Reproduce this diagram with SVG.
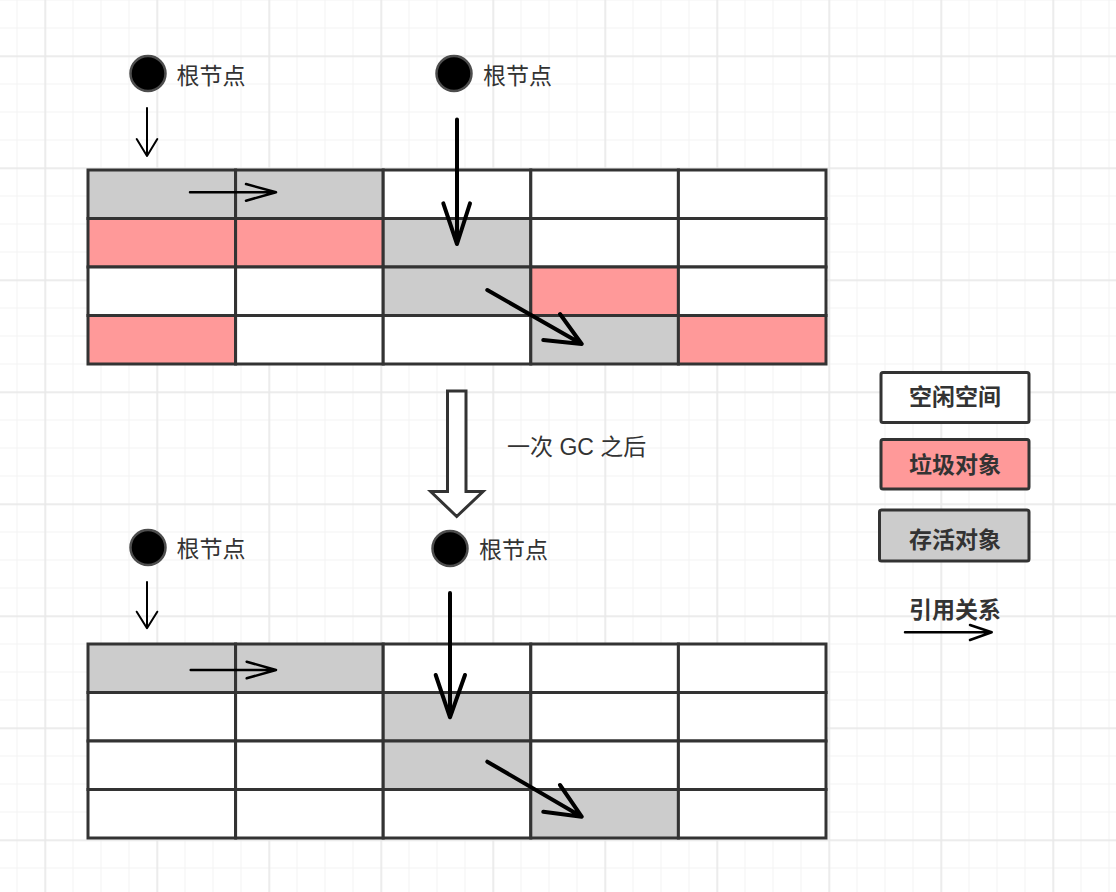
<svg xmlns="http://www.w3.org/2000/svg" width="1116" height="892" viewBox="0 0 1116 892">
<defs>
<pattern id="minor" patternUnits="userSpaceOnUse" x="16.5" y="27.5" width="28" height="28">
<rect x="0" y="0" width="1" height="28" fill="#f3f3f3"/>
<rect x="0" y="0" width="28" height="1" fill="#f3f3f3"/>
</pattern>
<pattern id="major" patternUnits="userSpaceOnUse" x="44.5" y="55.5" width="112" height="112">
<rect x="0" y="0" width="1.5" height="112" fill="#e8e8e8"/>
<rect x="0" y="0" width="112" height="1.5" fill="#e8e8e8"/>
</pattern>
<style>
.cell{stroke:#333;stroke-width:3}
.w{fill:#ffffff}
.g{fill:#cccccc}
.p{fill:#ff9999}
.root{fill:#000;stroke:#4d4d4d;stroke-width:2.5}
.lbl{font-family:"Liberation Sans","Noto Sans CJK SC",sans-serif;font-size:23px;fill:#333}
.leg{font-family:"Liberation Sans","Noto Sans CJK SC",sans-serif;font-size:23px;fill:#333;font-weight:bold;text-anchor:middle}
.box{stroke:#333;stroke-width:3}
.a2{fill:none;stroke:#000;stroke-width:2;stroke-linecap:round;stroke-linejoin:round}
.a3{fill:none;stroke:#000;stroke-width:2.5;stroke-linecap:round;stroke-linejoin:round}
.a4{fill:none;stroke:#000;stroke-width:4;stroke-linecap:round;stroke-linejoin:round}
</style>
</defs>
<rect width="1116" height="892" fill="#ffffff"/>
<rect width="1116" height="892" fill="url(#minor)"/>
<rect width="1116" height="892" fill="url(#major)"/>

<g id="table-before">
<rect class="cell g" x="88" y="170" width="147.6" height="48.5"/>
<rect class="cell g" x="235.6" y="170" width="147.6" height="48.5"/>
<rect class="cell w" x="383.2" y="170" width="147.6" height="48.5"/>
<rect class="cell w" x="530.8" y="170" width="147.6" height="48.5"/>
<rect class="cell w" x="678.4" y="170" width="147.6" height="48.5"/>
<rect class="cell p" x="88" y="218.5" width="147.6" height="48.5"/>
<rect class="cell p" x="235.6" y="218.5" width="147.6" height="48.5"/>
<rect class="cell g" x="383.2" y="218.5" width="147.6" height="48.5"/>
<rect class="cell w" x="530.8" y="218.5" width="147.6" height="48.5"/>
<rect class="cell w" x="678.4" y="218.5" width="147.6" height="48.5"/>
<rect class="cell w" x="88" y="267" width="147.6" height="48.5"/>
<rect class="cell w" x="235.6" y="267" width="147.6" height="48.5"/>
<rect class="cell g" x="383.2" y="267" width="147.6" height="48.5"/>
<rect class="cell p" x="530.8" y="267" width="147.6" height="48.5"/>
<rect class="cell w" x="678.4" y="267" width="147.6" height="48.5"/>
<rect class="cell p" x="88" y="315.5" width="147.6" height="48.5"/>
<rect class="cell w" x="235.6" y="315.5" width="147.6" height="48.5"/>
<rect class="cell w" x="383.2" y="315.5" width="147.6" height="48.5"/>
<rect class="cell g" x="530.8" y="315.5" width="147.6" height="48.5"/>
<rect class="cell p" x="678.4" y="315.5" width="147.6" height="48.5"/>
</g>

<g id="table-after">
<rect class="cell g" x="88" y="644" width="147.6" height="48.5"/>
<rect class="cell g" x="235.6" y="644" width="147.6" height="48.5"/>
<rect class="cell w" x="383.2" y="644" width="147.6" height="48.5"/>
<rect class="cell w" x="530.8" y="644" width="147.6" height="48.5"/>
<rect class="cell w" x="678.4" y="644" width="147.6" height="48.5"/>
<rect class="cell w" x="88" y="692.5" width="147.6" height="48.5"/>
<rect class="cell w" x="235.6" y="692.5" width="147.6" height="48.5"/>
<rect class="cell g" x="383.2" y="692.5" width="147.6" height="48.5"/>
<rect class="cell w" x="530.8" y="692.5" width="147.6" height="48.5"/>
<rect class="cell w" x="678.4" y="692.5" width="147.6" height="48.5"/>
<rect class="cell w" x="88" y="741" width="147.6" height="48.5"/>
<rect class="cell w" x="235.6" y="741" width="147.6" height="48.5"/>
<rect class="cell g" x="383.2" y="741" width="147.6" height="48.5"/>
<rect class="cell w" x="530.8" y="741" width="147.6" height="48.5"/>
<rect class="cell w" x="678.4" y="741" width="147.6" height="48.5"/>
<rect class="cell w" x="88" y="789.5" width="147.6" height="48.5"/>
<rect class="cell w" x="235.6" y="789.5" width="147.6" height="48.5"/>
<rect class="cell w" x="383.2" y="789.5" width="147.6" height="48.5"/>
<rect class="cell g" x="530.8" y="789.5" width="147.6" height="48.5"/>
<rect class="cell w" x="678.4" y="789.5" width="147.6" height="48.5"/>
</g>

<g id="root-1">
<circle class="root" cx="148" cy="73.5" r="17.5"/>
<text class="lbl" x="176.5" y="84">根节点</text>
</g>
<g id="root-2">
<circle class="root" cx="454" cy="73.5" r="17.5"/>
<text class="lbl" x="483" y="84">根节点</text>
</g>
<g id="root-3">
<circle class="root" cx="148" cy="547.5" r="17.5"/>
<text class="lbl" x="176.5" y="557">根节点</text>
</g>
<g id="root-4">
<circle class="root" cx="450" cy="548.5" r="17.5"/>
<text class="lbl" x="479" y="558">根节点</text>
</g>

<g id="gc-step">
<path d="M447.5,391 H466 V491.5 H483 L456.7,516.5 L430.7,491.5 H447.5 Z" fill="#ffffff" stroke="#333" stroke-width="3" stroke-linejoin="miter"/>
<text class="lbl" x="507" y="455">一次 GC 之后</text>
</g>

<g id="legend-free">
<rect class="box w" x="881" y="372.5" width="148" height="50" rx="2"/>
<text class="leg" x="955" y="405">空闲空间</text>
</g>
<g id="legend-garbage">
<rect class="box p" x="881" y="439.5" width="148" height="49.5" rx="2"/>
<text class="leg" x="955" y="473">垃圾对象</text>
</g>
<g id="legend-alive">
<rect class="box g" x="879.5" y="510" width="149.5" height="51" rx="2"/>
<text class="leg" x="955" y="548">存活对象</text>
</g>
<g id="legend-ref">
<text class="leg" x="955" y="618">引用关系</text>
</g>

<g id="connectors">
<path class="a2" d="M147,108 V156 M136.7,139 L147,156 L157.3,139"/>
<path class="a3" d="M190,192.3 H276 M246,184 L276,192.3 L246,200.7"/>
<path class="a4" d="M457,119.5 V244 M443.3,203.3 L457,244 L470,203.3"/>
<path class="a4" d="M487.3,290 L581.7,344 M560,314 L581.7,344 L543.3,340"/>
<path class="a2" d="M147,582 V628.3 M136.7,611.7 L147,628.3 L157.3,611.7"/>
<path class="a3" d="M190.7,670 H276 M246.7,661.7 L276,670 L246.7,678.3"/>
<path class="a4" d="M450,593 V717.3 M435.7,675 L450,717.3 L465,675"/>
<path class="a4" d="M487.3,761.7 L581.7,816.7 M560,785 L581.7,816.7 L543.3,811.7"/>
<path class="a3" d="M905,632.3 H991.7 M970,625 L991.7,632.3 L970,640"/>
</g>
</svg>
